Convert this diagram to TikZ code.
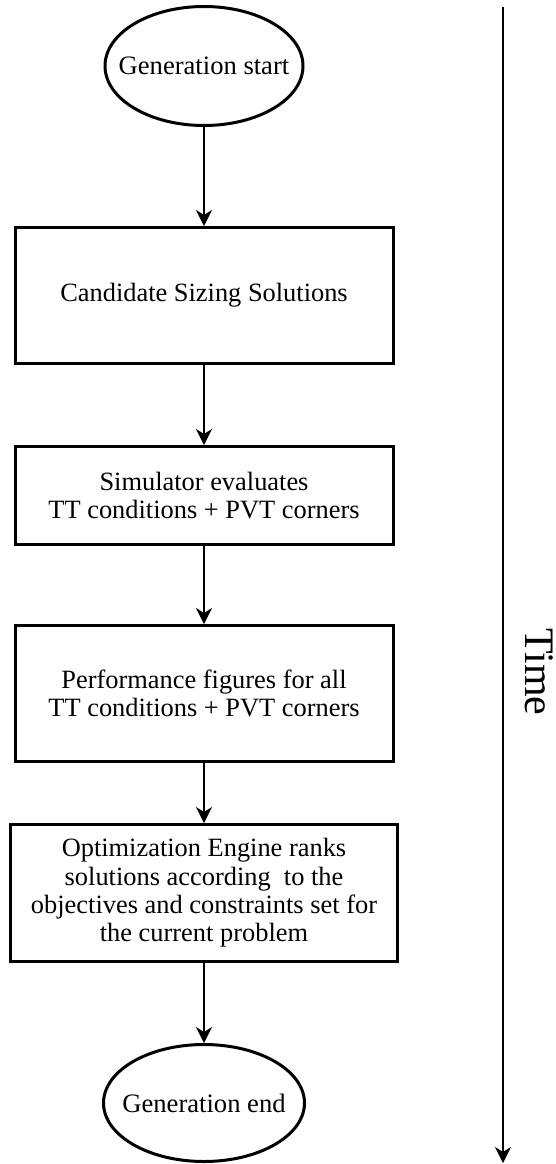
\documentclass[tikz,border=0pt]{standalone}
\usepackage{fontspec}
\setmainfont{Liberation Serif}
\usetikzlibrary{arrows.meta, shapes.geometric}
\tikzset{
  flowbox/.style={draw, line width=3pt, rectangle, inner sep=0pt, align=center,
    font=\fontsize{26.4}{28.3}\selectfont},
  terminal/.style={draw, line width=3pt, ellipse, inner sep=0pt,
    font=\fontsize{26.6}{28.3}\selectfont},
  flow/.style={line width=1.5pt, -{Stealth[length=16pt, width=16pt, inset=5pt]}},
}
% label of fixed-size terminal: no width of its own, so the ellipse keeps its set size
\newcommand{\termtext}[1]{\makebox[0pt]{#1}}
\begin{document}
\begin{tikzpicture}[x=1pt, y=-1pt]
  \useasboundingbox (0,0) rectangle (556,1164);

  % process chain of one generation
  \node[terminal, minimum width=198pt, minimum height=119pt] (start) at (204,66) {\termtext{Generation start}};
  \node[flowbox, minimum width=378pt, minimum height=136pt] (cand) at (204,295.5) {Candidate Sizing Solutions};
  \node[flowbox, minimum width=378pt, minimum height=98pt] (sim) at (204,495.5)
    {Simulator evaluates\\TT conditions + PVT corners};
  \node[flowbox, minimum width=378pt, minimum height=136pt] (perf) at (204,693.5)
    {Performance figures for all\\TT conditions + PVT corners};
  \node[flowbox, minimum width=387pt, minimum height=137pt] (opt) at (204,893)
    {Optimization Engine ranks\\solutions according\ \ to the\\objectives and constraints set for\\the current problem};
  \node[terminal, minimum width=201pt, minimum height=117pt] (end) at (204,1103) {\termtext{Generation end}};

  \draw[flow] (start) -- (cand);
  \draw[flow] (cand) -- (sim);
  \draw[flow] (sim) -- (perf);
  \draw[flow] (perf) -- (opt);
  \draw[flow] (opt) -- (end);

  % time axis
  \coordinate (ttop) at (503,7);
  \coordinate (tbot) at (503,1163);
  \draw[flow] (ttop) -- (tbot);
  \node[rotate=-90, inner sep=0pt, font=\fontsize{42}{48}\selectfont] (time) at (539,672) {Time};
\end{tikzpicture}
\end{document}
